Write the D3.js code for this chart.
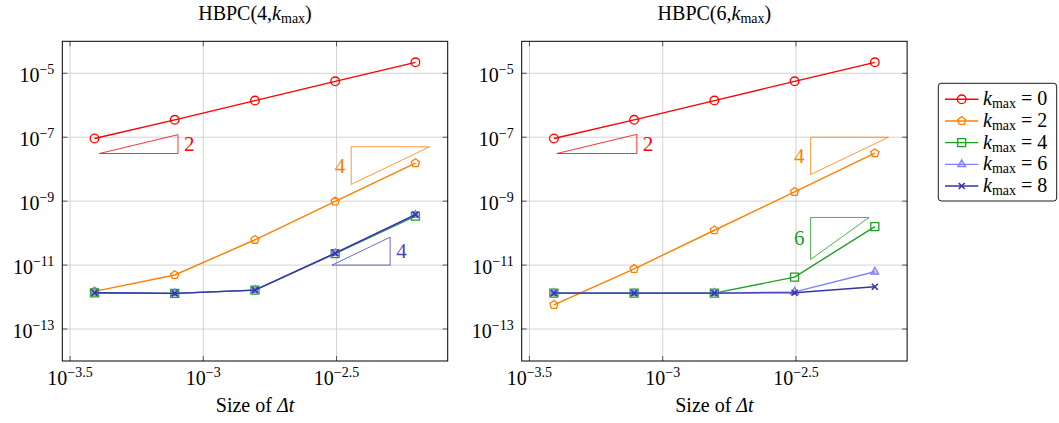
<!DOCTYPE html>
<html><head><meta charset="utf-8">
<script src="https://cdn.jsdelivr.net/npm/d3@7"></script>
<style>
html,body{margin:0;padding:0;background:#fff;}
</style></head>
<body><svg id="chart" width="1059" height="423" font-family="'Liberation Serif', 'DejaVu Serif', 'Times New Roman', serif"></svg>
<script>
// ---------- data ----------
const dt = [1/2560, 1/1280, 1/640, 1/320, 1/160];
const kmaxValues = [0, 2, 4, 6, 8];
const seriesColors = ["#ff0000", "#ff8000", "#1fa01f", "#8080ff", "#3434a6"];
const seriesMarkers = ["circle", "pentagon", "square", "triangle", "cross"];

const titles = ["HBPC(4,", "HBPC(6,"];

// HBPC(4,kmax)
const left_k0 = [9.1e-8, 3.5e-7, 1.4e-6, 5.6e-6, 2.2e-5];
const left_k2 = [1.5e-12, 4.9e-12, 6.2e-11, 9.8e-10, 1.55e-8];
const left_k4 = [1.36e-12, 1.3e-12, 1.65e-12, 2.3e-11, 3.4e-10];
const left_k6 = [1.36e-12, 1.3e-12, 1.65e-12, 2.35e-11, 3.7e-10];
const left_k8 = [1.36e-12, 1.3e-12, 1.65e-12, 2.35e-11, 3.8e-10];
// HBPC(6,kmax)
const right_k0 = [9.1e-8, 3.5e-7, 1.4e-6, 5.6e-6, 2.2e-5];
const right_k2 = [5.7e-13, 7.6e-12, 1.23e-10, 1.95e-9, 3.2e-8];
const right_k4 = [1.33e-12, 1.33e-12, 1.33e-12, 4.2e-12, 1.6e-10];
const right_k6 = [1.33e-12, 1.33e-12, 1.33e-12, 1.45e-12, 6.2e-12];
const right_k8 = [1.33e-12, 1.33e-12, 1.33e-12, 1.36e-12, 2.1e-12];

const xTickExps = ["-3.5", "-3", "-2.5"];
const yTickExps = ["-5", "-7", "-9", "-11", "-13"];

// slope triangles: [x0, x1, yRef, order, kind, label, seriesIndex]
const left_slopes = [
  [Math.pow(10,-3.39), Math.pow(10,-3.095), Math.pow(10,-7.51), 2, "lower", "2", 0],
  [Math.pow(10,-2.445), Math.pow(10,-2.151), Math.pow(10,-7.30), 4, "upper", "4", 1],
  [Math.pow(10,-2.517), Math.pow(10,-2.299), 1e-11, 4, "lower", "4", 4]
];
const right_slopes = [
  [Math.pow(10,-3.397), Math.pow(10,-3.097), Math.pow(10,-7.51), 2, "lower", "2", 0],
  [Math.pow(10,-2.445), Math.pow(10,-2.153), 1e-7, 4, "upper", "4", 1],
  [Math.pow(10,-2.445), Math.pow(10,-2.226), Math.pow(10,-9.51), 6, "upper", "6", 2]
];

const xDomain = [Math.pow(10,-3.529), Math.pow(10,-2.083)];
const yDomain = [1e-14, 1e-4];

// ---------- drawing ----------
const svg = d3.select("#chart");
const FF = "'Liberation Serif', 'DejaVu Serif', serif";
const FS = 20, SUP = 14;

function markerPath(type) {
  switch (type) {
    case "circle": return d3.symbol(d3.symbolCircle, Math.PI*4.3*4.3)();
    case "pentagon": {
      const r = 4.3, pts = [];
      for (let i = 0; i < 5; i++) { const a = -Math.PI/2 + i*2*Math.PI/5; pts.push([r*Math.cos(a), r*Math.sin(a)]); }
      return "M" + pts.map(p => p.join(",")).join("L") + "Z";
    }
    case "square": return "M-4,-4H4V4H-4Z";
    case "triangle": { const r = 4.5; return `M0,${-r}L${r*0.866},${r*0.5}L${-r*0.866},${r*0.5}Z`; }
    case "cross": return "M-3,-3L3,3M-3,3L3,-3";
  }
}

function drawMarker(g, type, color, x, y) {
  g.append("path").attr("d", markerPath(type)).attr("transform", `translate(${x},${y})`)
    .attr("stroke", color).attr("stroke-width", type === "cross" ? 1.6 : 1.3)
    .attr("fill", type === "triangle" ? "rgba(128,128,255,0.35)" : "none");
}

function txt(g) { return g.append("text").attr("font-family", FF).attr("fill", "#000"); }

function powLabel(sel, exp) {
  sel.append("tspan").text("10");
  sel.append("tspan").attr("font-size", SUP).attr("dy", -8).text(exp.replace("-", "\u2212"));
}

function plot(left, titlePre, series, slopes) {
  const top = 41.3, bottom = 361, width = 385.4;
  const x = d3.scaleLog().domain(xDomain).range([left, left + width]);
  const y = d3.scaleLog().domain(yDomain).range([bottom, top]);
  const g = svg.append("g");

  // grid
  xTickExps.forEach(e => {
    const xv = x(Math.pow(10, +e));
    g.append("line").attr("x1", xv).attr("x2", xv).attr("y1", top).attr("y2", bottom).attr("stroke", "#c8c8c8").attr("stroke-width", 0.8);
  });
  yTickExps.forEach(e => {
    const yv = y(Math.pow(10, +e));
    g.append("line").attr("x1", left).attr("x2", left + width).attr("y1", yv).attr("y2", yv).attr("stroke", "#c8c8c8").attr("stroke-width", 0.8);
  });
  // ticks (inside, all four sides)
  xTickExps.forEach(e => {
    const xv = x(Math.pow(10, +e));
    g.append("line").attr("x1", xv).attr("x2", xv).attr("y1", bottom).attr("y2", bottom - 5).attr("stroke", "#333").attr("stroke-width", 0.8);
    g.append("line").attr("x1", xv).attr("x2", xv).attr("y1", top).attr("y2", top + 5).attr("stroke", "#333").attr("stroke-width", 0.8);
    const t = txt(g).attr("x", xv).attr("y", 385).attr("text-anchor", "middle").attr("font-size", FS);
    powLabel(t, e);
  });
  yTickExps.forEach(e => {
    const yv = y(Math.pow(10, +e));
    g.append("line").attr("x1", left).attr("x2", left + 5).attr("y1", yv).attr("y2", yv).attr("stroke", "#333").attr("stroke-width", 0.8);
    g.append("line").attr("x1", left + width).attr("x2", left + width - 5).attr("y1", yv).attr("y2", yv).attr("stroke", "#333").attr("stroke-width", 0.8);
    const t = txt(g).attr("x", left - 8).attr("y", yv + 9).attr("text-anchor", "end").attr("font-size", FS);
    powLabel(t, e);
  });

  // slope triangles
  slopes.forEach(([x0, x1, yr, order, kind, lab, si]) => {
    const c = si === 4 ? "#4848b8" : seriesColors[si];
    const ratio = Math.pow(x1 / x0, order);
    let pts, lx, ly, anchor;
    if (kind === "lower") {
      pts = [[x0, yr], [x1, yr], [x1, yr * ratio]];
      lx = x(x1) + 6; ly = (y(yr) + y(yr * ratio)) / 2; anchor = "start";
    } else {
      pts = [[x0, yr], [x1, yr], [x0, yr / ratio]];
      lx = x(x0) - 6; ly = (y(yr) + y(yr / ratio)) / 2; anchor = "end";
    }
    g.append("path").attr("d", d3.line().x(d => x(d[0])).y(d => y(d[1]))(pts) + "Z")
      .attr("fill", "none").attr("stroke", c).attr("stroke-width", 0.8);
    txt(g).attr("x", lx).attr("y", ly + 7).attr("text-anchor", anchor).attr("font-size", 21)
      .attr("fill", c).text(lab);
  });

  // series
  const line = d3.line().x((d, i) => x(dt[i])).y(d => y(d));
  series.forEach((vals, si) => {
    g.append("path").attr("d", line(vals)).attr("fill", "none").attr("stroke", seriesColors[si]).attr("stroke-width", 1.4);
    vals.forEach((v, i) => drawMarker(g, seriesMarkers[si], seriesColors[si], x(dt[i]), y(v)));
  });

  // frame
  g.append("rect").attr("x", left).attr("y", top).attr("width", width).attr("height", bottom - top)
    .attr("fill", "none").attr("stroke", "#000").attr("stroke-width", 1);

  // title
  const t = txt(g).attr("x", left + width / 2).attr("y", 20).attr("text-anchor", "middle").attr("font-size", FS);
  t.append("tspan").text(titlePre);
  t.append("tspan").attr("font-style", "italic").text("k");
  t.append("tspan").attr("font-size", SUP).attr("dy", 3).text("max");
  t.append("tspan").attr("dy", -3).text(")");

  // x label
  const xl = txt(g).attr("x", left + width / 2).attr("y", 412).attr("text-anchor", "middle").attr("font-size", FS);
  xl.append("tspan").text("Size of ");
  xl.append("tspan").attr("font-style", "italic").text("\u0394t");
}

plot(62.3, titles[0], [left_k0, left_k2, left_k4, left_k6, left_k8], left_slopes);
plot(521.7, titles[1], [right_k0, right_k2, right_k4, right_k6, right_k8], right_slopes);

// legend
const lg = svg.append("g");
lg.append("rect").attr("x", 938.3).attr("y", 83.3).attr("width", 118.4).attr("height", 117.7).attr("rx", 3)
  .attr("fill", "#fff").attr("stroke", "#000").attr("stroke-width", 0.9);
const legendY = d3.scaleLinear().domain([0, 4]).range([99.3, 186]);
kmaxValues.forEach((k, i) => {
  const yy = legendY(i);
  lg.append("line").attr("x1", 945).attr("x2", 978.3).attr("y1", yy).attr("y2", yy).attr("stroke", seriesColors[i]).attr("stroke-width", 1.4);
  drawMarker(lg, seriesMarkers[i], seriesColors[i], 961.7, yy);
  const t = txt(lg).attr("x", 983).attr("y", yy + 6).attr("font-size", FS);
  t.append("tspan").attr("font-style", "italic").text("k");
  t.append("tspan").attr("font-size", SUP).attr("dy", 3).text("max");
  t.append("tspan").attr("dy", -3).text(" = " + k);
});
</script></body></html>
